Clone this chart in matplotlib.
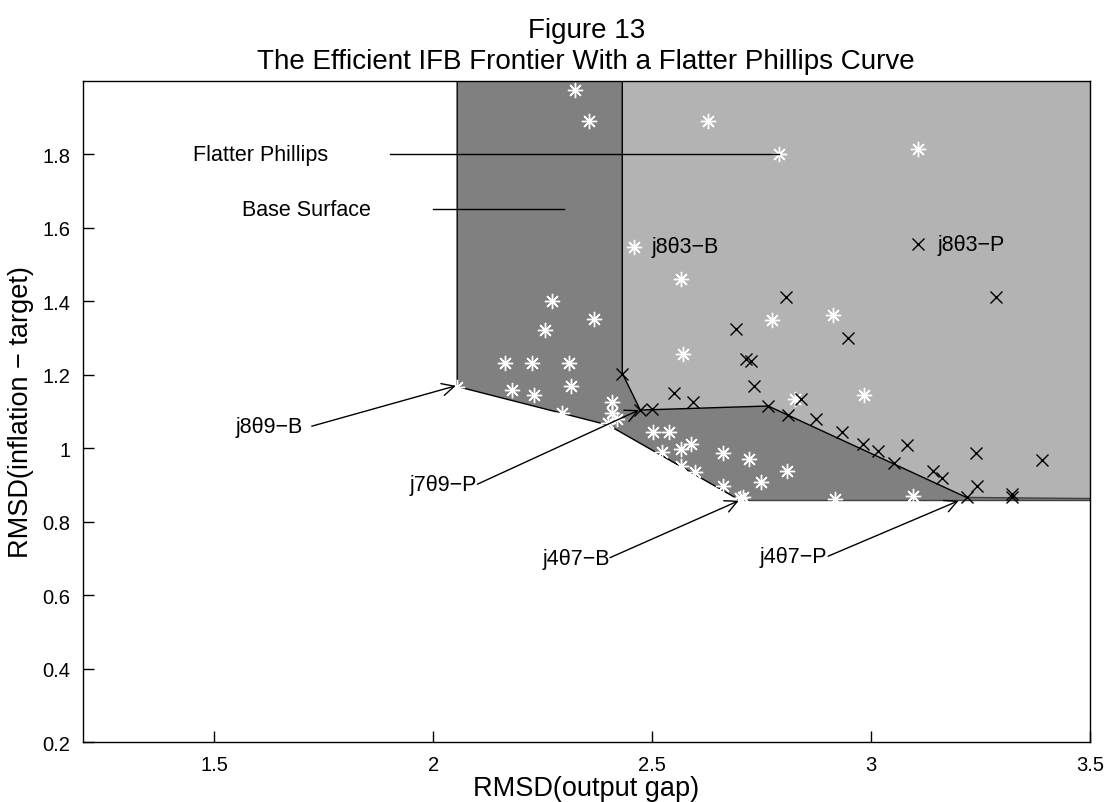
import matplotlib
matplotlib.use("Agg")
import matplotlib.pyplot as plt
from matplotlib.ticker import FormatStrFormatter

plt.rcParams['font.family'] = ['Liberation Sans', 'DejaVu Sans']

# base surface policies (white asterisks)
base_x = [2.324, 2.357, 2.628, 2.790, 3.107, 2.459, 2.566, 2.272, 2.368, 2.255,
          2.571, 2.773, 2.914, 2.985, 2.826, 2.164, 2.226, 2.311, 2.181, 2.231,
          2.316, 2.294, 2.409, 2.409, 2.419, 2.400, 2.503, 2.539, 2.522, 2.566,
          2.590, 2.566, 2.598, 2.663, 2.722, 2.663, 2.749, 2.807, 2.708, 2.918,
          3.096, 2.055, 2.700]
base_y = [1.975, 1.892, 1.890, 1.800, 1.815, 1.549, 1.460, 1.400, 1.351, 1.322,
          1.257, 1.350, 1.363, 1.146, 1.134, 1.233, 1.232, 1.233, 1.159, 1.145,
          1.170, 1.097, 1.126, 1.095, 1.079, 1.070, 1.044, 1.043, 0.990, 0.999,
          1.011, 0.952, 0.934, 0.988, 0.970, 0.897, 0.907, 0.938, 0.866, 0.863,
          0.870, 1.168, 0.864]

# flatter Phillips curve policies (black crosses)
phil_x = [2.691, 2.714, 2.725, 2.733, 2.551, 2.593, 2.432, 2.472, 2.499, 2.765,
          2.811, 2.806, 3.285, 2.947, 2.840, 2.874, 2.933, 2.981, 3.016, 3.081,
          3.052, 3.141, 3.163, 3.239, 3.241, 3.220, 3.322, 3.322, 3.391, 3.107]
phil_y = [1.324, 1.243, 1.238, 1.170, 1.150, 1.127, 1.202, 1.104, 1.108, 1.115,
          1.091, 1.411, 1.411, 1.299, 1.134, 1.079, 1.043, 1.011, 0.993, 1.009,
          0.961, 0.938, 0.920, 0.986, 0.896, 0.866, 0.875, 0.866, 0.967, 1.556]

# efficient frontiers (outline of the shaded surfaces)
base_front_x = [2.055, 2.055, 2.400, 2.701, 3.5, 3.5]
base_front_y = [2.0, 1.168, 1.063, 0.858, 0.858, 2.0]
phil_front_x = [2.432, 2.432, 2.473, 2.765, 3.218, 3.5, 3.5]
phil_front_y = [2.0, 1.204, 1.104, 1.115, 0.866, 0.863, 2.0]

# arrow labels: text, text anchor, arrow tail, arrow tip
arrow_labels = ['j8\u03b89\u2212B', 'j7\u03b89\u2212P', 'j4\u03b87\u2212B', 'j4\u03b87\u2212P']
arrow_text_xy = [(1.703, 1.060), (2.099, 0.902), (2.403, 0.700), (2.899, 0.704)]
arrow_tail = [(1.723, 1.060), (2.101, 0.902), (2.404, 0.702), (2.902, 0.706)]
arrow_tip = [(2.052, 1.170), (2.470, 1.104), (2.698, 0.857), (3.200, 0.857)]

point_labels = ['j8\u03b83\u2212B', 'j8\u03b83\u2212P']
point_label_xy = [(2.499, 1.549), (3.151, 1.556)]

legend_labels = ['Flatter Phillips', 'Base Surface']
legend_text_xy = [(1.451, 1.800), (1.564, 1.651)]
legend_line_x = [(1.902, 2.790), (2.000, 2.300)]

fig = plt.figure(figsize=(11.09, 8.03), dpi=100)
ax = fig.add_axes([0.0746, 0.0747, 0.9083, 0.8232])

ax.fill(base_front_x, base_front_y, facecolor='#808080', edgecolor='none', zorder=1)
ax.fill(phil_front_x, phil_front_y, facecolor='#b3b3b3', edgecolor='none', zorder=2)
ax.plot(base_front_x[:4], base_front_y[:4], color='k', lw=1, zorder=3)
ax.plot(phil_front_x[:5], phil_front_y[:5], color='k', lw=1, zorder=3)
ax.plot([base_front_x[3], base_front_x[4]], [base_front_y[3], base_front_y[4]],
        color='#404040', lw=1, zorder=3)
ax.plot(phil_front_x[4:6], phil_front_y[4:6], color='#404040', lw=1, zorder=3)

ax.plot(base_x, base_y, linestyle='none', marker=(8, 2, 0), markersize=11,
        markeredgecolor='white', markeredgewidth=1.0, zorder=4)
ax.plot(phil_x, phil_y, linestyle='none', marker='x', markersize=8,
        markeredgecolor='black', markeredgewidth=1.0, zorder=5)

lab_fs = 15.5
for lab, txy, tail, tip in zip(arrow_labels, arrow_text_xy, arrow_tail, arrow_tip):
    ax.text(txy[0], txy[1], lab, ha='right', va='center', fontsize=lab_fs, zorder=6)
    ax.annotate('', xy=tip, xytext=tail,
                arrowprops=dict(arrowstyle='->', color='k', lw=1,
                                mutation_scale=22, shrinkA=0, shrinkB=0),
                zorder=6)

for lab, txy in zip(point_labels, point_label_xy):
    ax.text(txy[0], txy[1], lab, ha='left', va='center', fontsize=lab_fs, zorder=6)

for lab, txy, lx in zip(legend_labels, legend_text_xy, legend_line_x):
    ax.text(txy[0], txy[1], lab, ha='left', va='center', fontsize=15.5, zorder=6)
    ax.plot(lx, [txy[1], txy[1]], color='k', lw=1, zorder=6)

ax.set_xlim(1.2, 3.5)
ax.set_ylim(0.2, 2.0)
ax.set_xticks([1.5, 2, 2.5, 3, 3.5])
ax.set_yticks([0.2, 0.4, 0.6, 0.8, 1.0, 1.2, 1.4, 1.6, 1.8])
ax.xaxis.set_major_formatter(FormatStrFormatter('%g'))
ax.yaxis.set_major_formatter(FormatStrFormatter('%g'))
ax.tick_params(direction='in', length=8, width=1, labelsize=14.5, pad=9)
for sp in ax.spines.values():
    sp.set_linewidth(1)
    sp.set_zorder(7)

ax.set_xlabel('RMSD(output gap)', fontsize=19.5, labelpad=1)
ax.set_ylabel('RMSD(inflation \u2212 target)', fontsize=19.5, labelpad=6)

fig.text(0.5286, 0.962, 'Figure 13', ha='center', va='center', fontsize=20)
fig.text(0.5286, 0.923, 'The Efficient IFB Frontier With a Flatter Phillips Curve',
         ha='center', va='center', fontsize=20)

fig.savefig('out.png', dpi=100)
